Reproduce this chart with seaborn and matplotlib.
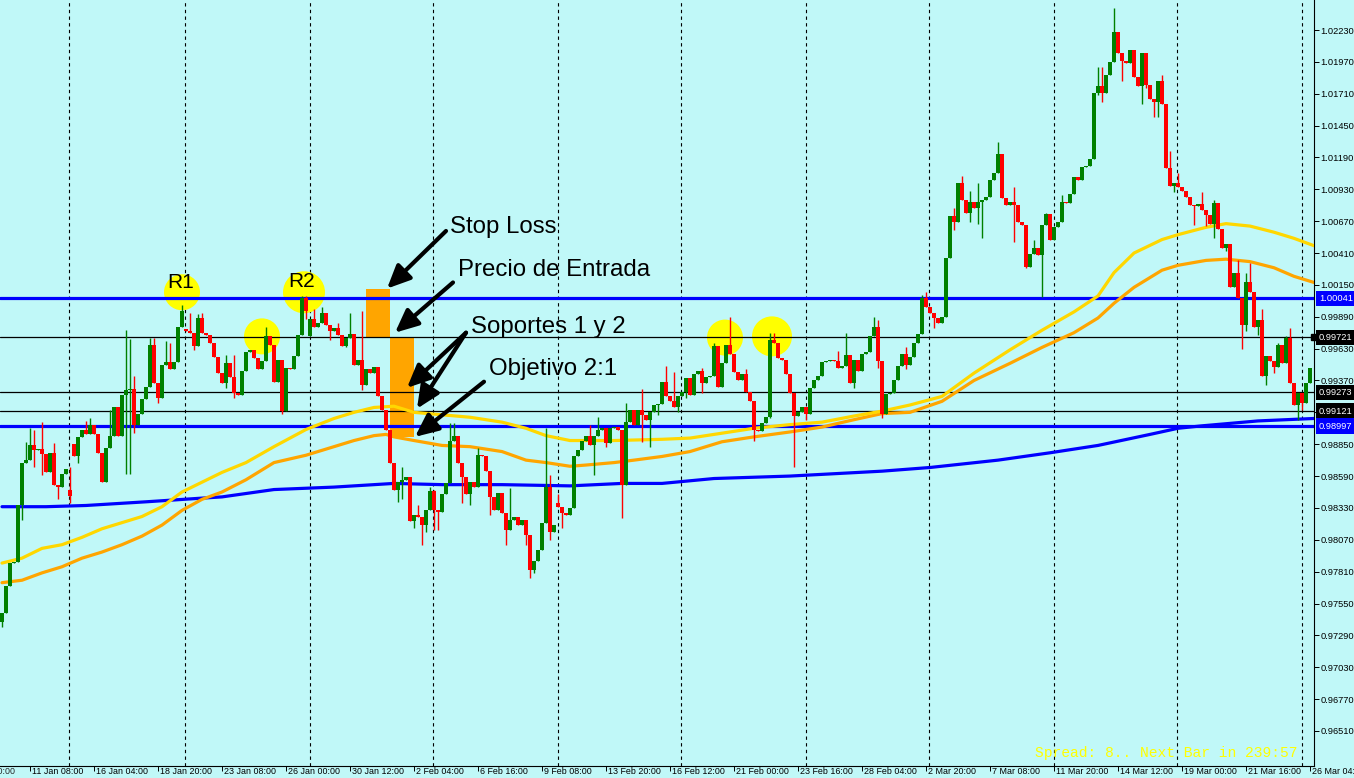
import numpy as np
import pandas as pd
import matplotlib
matplotlib.use("Agg")
import matplotlib.pyplot as plt
import matplotlib.transforms as mtransforms
import seaborn as sns

# ---------------- data (EURUSD-like 4h candles) ----------------
close = [
    .9747, .9769, .9788, .9789, .9835, .9870, .9872, .9884, .9880, .9881,
    .9877, .9862, .9878, .9852, .9850, .9861, .9865, .9843, .9875, .9891,
    .9897, .9893, .9901, .9893, .9878, .9854, .9882, .9892, .9915, .9892,
    .9925, .9929, .9930, .9901, .9910, .9922, .9932, .9966, .9935, .9923,
    .9950, .9952, .9946, .9952, .9981, .9994, .9977, .9976, .9965, .9988,
    .9976, .9974, .9968, .9956, .9943, .9935, .9951, .9940, .9927, .9925,
    .9945, .9960, .9962, .9955, .9946, .9953, .9973, .9966, .9936, .9954,
    .9912, .9947, .9946, .9957, .9974, 1.0004, .9994, .9987, .9981, .9984,
    .9992, .9982, .9977, .9980, .9974, .9965, .9972, .9975, .9950, .9954,
    .9933, .9946, .9943, .9948, .9924, .9913, .9897, .9870, .9848, .9854,
    .9856, .9858, .9822, .9827, .9826, .9819, .9831, .9847, .9831, .9830,
    .9844, .9853, .9888, .9892, .9870, .9858, .9844, .9854, .9850, .9876,
    .9875, .9863, .9842, .9831, .9845, .9829, .9815, .9823, .9826, .9819,
    .9823, .9811, .9782, .9790, .9799, .9821, .9850, .9813, .9819, .9834,
    .9829, .9827, .9833, .9875, .9880, .9888, .9892, .9884, .9892, .9897,
    .9898, .9886, .9898, .9899, .9897, .9852, .9903, .9913, .9901, .9913,
    .9909, .9905, .9911, .9917, .9918, .9936, .9924, .9920, .9915, .9924,
    .9928, .9939, .9925, .9942, .9945, .9935, .9940, .9941, .9965, .9932,
    .9951, .9966, .9959, .9944, .9937, .9942, .9928, .9920, .9897, .9896,
    .9902, .9907, .9970, .9968, .9955, .9954, .9942, .9927, .9908, .9911,
    .9915, .9910, .9931, .9937, .9941, .9952, .9953, .9954, .9953, .9947,
    .9949, .9958, .9935, .9954, .9945, .9959, .9960, .9973, .9981, .9953,
    .9910, .9926, .9927, .9937, .9949, .9959, .9950, .9956, .9968, .9975,
    1.0004, .9997, .9992, .9988, .9984, .9989, 1.0037, 1.0071, 1.0066, 1.0098,
    1.0084, 1.0074, 1.0083, 1.0078, 1.0083, 1.0084, 1.0087, 1.0101, 1.0106, 1.0122,
    1.0086, 1.0080, 1.0083, 1.0080, 1.0066, 1.0064, 1.0030, 1.0040, 1.0045, 1.0039,
    1.0064, 1.0073, 1.0052, 1.0062, 1.0066, 1.0083, 1.0082, 1.0089, 1.0103, 1.0101,
    1.0111, 1.0112, 1.0118, 1.0172, 1.0177, 1.0172, 1.0186, 1.0197, 1.0221, 1.0204,
    1.0198, 1.0196, 1.0207, 1.0185, 1.0177, 1.0204, 1.0178, 1.0167, 1.0164, 1.0181,
    1.0163, 1.0110, 1.0096, 1.0098, 1.0095, 1.0092, 1.0087, 1.0080, 1.0079, 1.0081,
    1.0076, 1.0072, 1.0065, 1.0082, 1.0061, 1.0045, 1.0048, 1.0013, 1.0025, 1.0004,
    .9982, 1.0017, 1.0009, .9981, .9986, .9941, .9957, .9953, .9948, .9966,
    .9951, .9972, .9935, .9917, .9927, .9919, .9935, .9947,
]
# opens that differ from the previous close (gaps)
open_gaps = {0: .9740, 17: .9848, 18: .9885, 46: .9979, 77: .9973, 139: .9837}

wick_high = {6: .9887, 7: .9898, 8: .9897, 10: .9903, 13: .9886, 17: .9866, 21: .9904,
             22: .9906, 27: .9913, 31: .9978, 32: .9971, 33: .9941, 37: .9972, 38: .9972,
             41: .9969, 42: .9968, 45: .9999, 47: .9992, 49: .9991, 50: .9992, 56: .9958,
             58: .9958, 66: .9981, 75: 1.0006, 76: 1.0006, 78: .9995, 80: .9997, 84: .9984,
             87: .9992, 90: .9994, 100: .9866, 104: .9835, 107: .9850, 108: .9848,
             112: .9902, 113: .9902, 119: .9882, 127: .9849, 136: .9898, 137: .9860,
             139: .9844, 147: .9901, 149: .9907, 156: .9919, 160: .9930, 166: .9949,
             168: .9944, 175: .9947, 178: .9968, 182: .9989, 186: .9946, 192: .9976,
             193: .9976, 209: .9961, 211: .9976, 218: .9989, 219: .9986, 226: .9964,
             230: 1.0007, 231: 1.0009, 238: 1.0078, 240: 1.0104, 242: 1.0092, 244: 1.0098,
             249: 1.0132, 253: 1.0095, 258: 1.0052, 261: 1.0074, 265: 1.0088, 274: 1.0193,
             275: 1.0193, 278: 1.0241, 290: 1.0186, 292: 1.0124, 294: 1.0106, 300: 1.0091,
             303: 1.0084, 309: 1.0035, 311: 1.0025, 312: 1.0033, 315: .9995, 319: .9968,
             321: .9973, 322: .9980}
wick_low = {0: .9736, 5: .9823, 8: .9866, 10: .9860, 14: .9840, 17: .9837, 19: .9870,
            31: .9861, 32: .9861, 33: .9894, 39: .9919, 48: .9962, 56: .9931, 58: .9923,
            70: .9910, 76: .9987, 82: .9970, 86: .9964, 90: .9929, 99: .9838, 100: .9840,
            103: .9817, 105: .9803, 106: .9813, 108: .9815, 109: .9815, 115: .9837,
            117: .9835, 122: .9827, 126: .9803, 131: .9803, 132: .9776, 133: .9780,
            137: .9807, 140: .9817, 148: .9860, 151: .9883, 155: .9825, 160: .9887,
            162: .9883, 164: .9909, 169: .9911, 171: .9923, 175: .9927, 188: .9888,
            192: .9906, 198: .9866, 201: .9905, 213: .9931, 219: .9947, 220: .9906,
            226: .9946, 233: .9980, 238: 1.0060, 242: 1.0066, 244: 1.0065, 245: 1.0053,
            253: 1.0050, 256: 1.0029, 260: 1.0005, 274: 1.0170, 275: 1.0164, 280: 1.0181,
            285: 1.0163, 286: 1.0176, 288: 1.0152, 289: 1.0152, 293: 1.0091, 298: 1.0064,
            301: 1.0063, 303: 1.0053, 306: 1.0043, 310: .9963, 311: .9977, 314: .9974,
            316: .9933, 318: .9943, 324: .9905, 325: .9913}

# moving averages (bar index, price)
yellow_bar = [0, 5, 10, 15, 20, 25, 30, 35, 40, 45, 50, 55, 61, 68, 76, 83, 88, 93, 98, 103,
              110, 117, 125, 131, 136, 142, 153, 165, 172, 180, 188, 197, 205, 213, 220, 227,
              235, 243, 252, 260, 268, 274, 278, 283, 290, 294, 301, 306, 312, 318, 323, 328]
yellow_val = [.9788, .9792, .9800, .9803, .9809, .9816, .9821, .9826, .9834, .9846, .9854,
              .9862, .9870, .9883, .9897, .9906, .9911, .9915, .9916, .9911, .9909, .9907,
              .9903, .9898, .9892, .9888, .9888, .9889, .9890, .9894, .9898, .9901, .9903,
              .9908, .9912, .9917, .9924, .9943, .9962, .9978, .9993, 1.0006, 1.0025, 1.0041,
              1.0052, 1.0056, 1.0062, 1.0065, 1.0063, 1.0058, 1.0053, 1.0047]
orange_bar = [0, 5, 10, 15, 20, 25, 30, 35, 40, 45, 50, 55, 61, 68, 76, 83, 88, 93, 96, 98,
              103, 110, 117, 125, 131, 136, 142, 146, 153, 158, 165, 172, 180, 188, 197, 205,
              213, 220, 227, 235, 243, 252, 260, 268, 274, 278, 283, 290, 294, 301, 306, 312,
              318, 323, 328]
orange_val = [.9772, .9774, .9780, .9785, .9792, .9797, .9803, .9810, .9819, .9831, .9840,
              .9846, .9856, .9870, .9876, .9883, .9888, .9892, .9893, .9891, .9888, .9884,
              .9883, .9879, .9872, .9870, .9867, .9868, .9870, .9872, .9875, .9879, .9887,
              .9891, .9895, .9899, .9905, .9910, .9911, .9920, .9937, .9951, .9964, .9976,
              .9988, 1.0000, 1.0013, 1.0027, 1.0031, 1.0035, 1.0036, 1.0034, 1.0029, 1.0022,
              1.0017]
blue_bar = [0, 11, 21, 36, 50, 55, 68, 83, 98, 110, 125, 142, 155, 165, 178, 197, 220, 232,
            249, 262, 274, 287, 294, 300, 314, 328]
blue_val = [.9834, .9834, .9835, .9838, .9841, .9842, .9848, .9850, .9853, .9852, .9852,
            .9851, .9853, .9853, .9857, .9859, .9863, .9866, .9872, .9878, .9884, .9893,
            .9898, .9900, .9904, .9906]

levels_blue = [1.00041, 0.98997]
levels_black = [0.99721, 0.99273, 0.99121]

week_lines = [16.8, 45.8, 76.9, 107.8, 138.9, 169.8, 200.9, 231.8, 262.9, 293.8, 324.9]

xtick_bars = [7, 23, 39, 55, 71, 87, 103, 119, 135, 151, 167, 183, 199, 215, 231, 247,
              263, 279, 295, 311, 327]
xtick_labels = ["11 Jan 08:00", "16 Jan 04:00", "18 Jan 20:00", "23 Jan 08:00",
                "26 Jan 00:00", "30 Jan 12:00", "2 Feb 04:00", "6 Feb 16:00", "9 Feb 08:00",
                "13 Feb 20:00", "16 Feb 12:00", "21 Feb 00:00", "23 Feb 16:00", "28 Feb 04:00",
                "2 Mar 20:00", "7 Mar 08:00", "11 Mar 20:00", "14 Mar 12:00", "19 Mar 00:00",
                "21 Mar 16:00", "26 Mar 04:00"]
first_label_bar = -9
first_label = "8 Jan 20:00"
ytick_values = [1.02230, 1.01970, 1.01710, 1.01450, 1.01190, 1.00930, 1.00670, 1.00410,
                1.00150, 0.99890, 0.99630, 0.99370, 0.99110, 0.98850, 0.98590, 0.98330,
                0.98070, 0.97810, 0.97550, 0.97290, 0.97030, 0.96770, 0.96510]

# annotation objects
circle_bar = [45, 75.5, 65, 180.75, 192.5]
circle_price = [1.0009, 1.0009, 0.9973, 0.9972, 0.9973]
circle_radius_px = [18, 21, 18, 18, 20]
rect_stop = (91, 97, 0.99721, 1.0012)
rect_entry = (97, 103, 0.9891, 0.99721)
notes = ["Stop Loss", "Precio de Entrada", "Soportes 1 y 2", "Objetivo 2:1"]
note_bar = [112, 114, 117.25, 121.75]
note_price = [1.0062, 1.0027, 0.9981, 0.9946]
arrow_tail = [(111, 1.0059), (112.75, 1.0017), (116, 0.9976), (116, 0.9976), (120.5, 0.9936)]
arrow_tip = [(96.25, 1.0012), (98.25, 0.9976), (101.25, 0.9931), (103.75, 0.9914), (103.25, 0.9891)]

# ---------------- drawing ----------------
sns.set_style("white")
plt.rcParams['font.family'] = ['Liberation Sans', 'DejaVu Sans']

BG = '#C0F8F8'
GREEN = '#008000'
RED = '#FF0000'

fig = plt.figure(figsize=(13.54, 7.78), dpi=100, facecolor=BG)
ax = fig.add_axes([0, 12 / 778, 1314 / 1354, 766 / 778])
ax.set_facecolor(BG)

n = len(close)
bars = np.arange(n)
opens = np.array([open_gaps.get(i, close[i - 1] if i > 0 else close[0]) for i in range(n)])
closes = np.array(close)
highs = np.array([max(wick_high.get(i, 0), opens[i], closes[i]) for i in range(n)])
lows = np.array([min(wick_low.get(i, 9), opens[i], closes[i]) for i in range(n)])
colors = [GREEN if c >= o else RED for o, c in zip(opens, closes)]
bottoms = np.minimum(opens, closes)
heights = np.maximum(np.abs(closes - opens), 0.00009)

# week separators
for wb in week_lines:
    ax.axvline(wb, color='black', lw=0.8, ls=(0, (3, 3)), zorder=1)

# orange trade boxes (background objects)
for (x0, x1, y0, y1) in [rect_stop, rect_entry]:
    ax.add_patch(plt.Rectangle((x0, y0), x1 - x0, y1 - y0, facecolor='#FFA500',
                               edgecolor='none', zorder=1.2))

# yellow circles
ax.scatter(circle_bar, circle_price, s=[(2 * r * 0.72) ** 2 for r in circle_radius_px],
           color='#FFFF00', edgecolor='none', zorder=1.5)

# horizontal levels
for lv in levels_black:
    ax.axhline(lv, color='black', lw=0.9, zorder=2.2)
for lv in levels_blue:
    ax.axhline(lv, color='#0000FF', lw=2.3, zorder=2.3)

# moving averages
sns.lineplot(x=blue_bar, y=blue_val, color='#0000FF', linewidth=2.3, ax=ax, zorder=2.4)
sns.lineplot(x=orange_bar, y=orange_val, color='#FFA500', linewidth=2.3, ax=ax, zorder=2.5)
sns.lineplot(x=yellow_bar, y=yellow_val, color='#FFD700', linewidth=2.3, ax=ax, zorder=2.6)

# candles
ax.vlines(bars, lows, highs, colors=colors, linewidth=1.0, zorder=3.9)
ax.bar(bars, heights, bottom=bottoms, width=0.8, color=colors, linewidth=0, zorder=4)

# texts and arrows
ax.text(44.75, 1.0017, "R1", fontsize=15, ha='center', va='center', color='black', zorder=6)
ax.text(75.0, 1.0018, "R2", fontsize=15, ha='center', va='center', color='black', zorder=6)
for t, bx, py in zip(notes, note_bar, note_price):
    ax.text(bx, py, t, fontsize=17.3, ha='left', va='center', color='black', zorder=6)
for tail, tip in zip(arrow_tail, arrow_tip):
    ax.annotate('', xy=tip, xytext=tail,
                arrowprops=dict(arrowstyle='-|>,head_length=0.7,head_width=0.32',
                                color='black', lw=3.0, mutation_scale=20,
                                shrinkA=0, shrinkB=0), zorder=6)

ax.text(1035 / 1314, 13 / 766, "Spread: 8.. Next Bar in 239:57", transform=ax.transAxes,
        family='Liberation Mono', fontsize=10.5, color='#FFFF00', ha='left', va='center',
        zorder=6)

# axes
ax.set_xlabel('')
ax.set_ylabel('')
for side in ['left', 'top']:
    ax.spines[side].set_visible(False)
for side in ['right', 'bottom']:
    ax.spines[side].set_visible(True)
    ax.spines[side].set_color('black')
    ax.spines[side].set_linewidth(0.8)

ax.yaxis.tick_right()
ax.set_yticks(ytick_values, labels=[f"{v:.5f}" for v in ytick_values])
ax.tick_params(axis='y', direction='out', length=3.5, width=0.7, pad=1.2, labelsize=6.7,
               colors='black', right=True, left=False)
ax.set_xticks(xtick_bars, labels=xtick_labels)
ax.tick_params(axis='x', direction='out', length=3.5, width=0.7, pad=-2.6, labelsize=6.4,
               colors='black', bottom=True)
offset = mtransforms.ScaledTranslation(2 / 100, 0, fig.dpi_scale_trans)
for lab in ax.get_xticklabels():
    lab.set_horizontalalignment('left')
    lab.set_transform(lab.get_transform() + offset)

ax.set_xlim(-0.5, 328)
ax.set_ylim(0.96224, 1.02475)

# the date label left of the view, cut by the picture edge
xblend = mtransforms.blended_transform_factory(ax.transData, ax.transAxes)
ax.text(first_label_bar, 0, first_label, fontsize=6.4, ha='left', va='center', clip_on=False,
        transform=xblend + mtransforms.ScaledTranslation(2 / 100, -5 / 100, fig.dpi_scale_trans))

# price boxes on the right scale
blend = mtransforms.blended_transform_factory(ax.transAxes, ax.transData)
box_shift = mtransforms.ScaledTranslation(5 / 100, 0, fig.dpi_scale_trans)
box_levels = [(1.00041, '#0000FF'), (0.99721, 'black'), (0.99273, 'black'),
              (0.99121, 'black'), (0.98997, '#0000FF')]
for lv, col in box_levels:
    ax.text(1.0, lv, f"{lv:.5f}", transform=blend + box_shift, ha='left', va='center',
            fontsize=6.7, color='white', clip_on=False, zorder=10,
            bbox=dict(boxstyle='square,pad=0.35', facecolor=col, edgecolor='none'))
ax.plot([1.0], [0.99721], marker='s', ms=4, color='black', transform=blend, clip_on=False,
        zorder=9)

fig.savefig('out.png', dpi=100, facecolor=BG)
